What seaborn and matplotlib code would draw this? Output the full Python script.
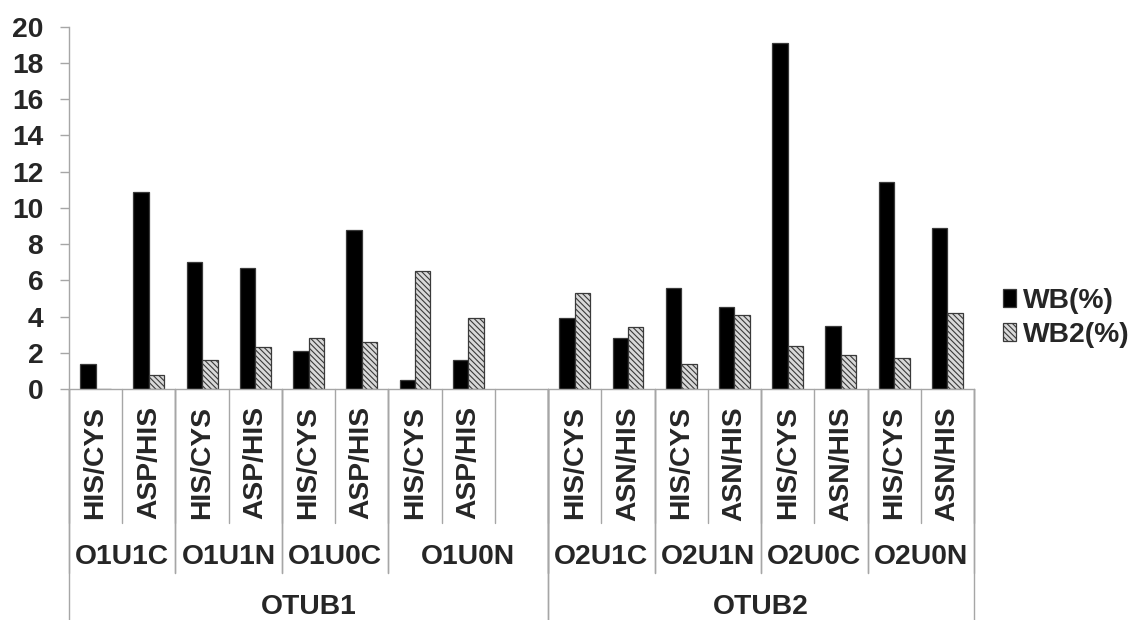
import numpy as np
import pandas as pd
import matplotlib
matplotlib.use("Agg")
import matplotlib.pyplot as plt
import seaborn as sns
from matplotlib.patches import Patch
from matplotlib.transforms import blended_transform_factory

# dados
grupos = ["O1U1C", "O1U1N", "O1U0C", "O1U0N", "O2U1C", "O2U1N", "O2U0C", "O2U0N"]
proteinas = ["OTUB1", "OTUB1", "OTUB1", "OTUB1", "OTUB2", "OTUB2", "OTUB2", "OTUB2"]
sitios = ["HIS/CYS", "ASP/HIS", "HIS/CYS", "ASP/HIS", "HIS/CYS", "ASP/HIS", "HIS/CYS", "ASP/HIS",
          "HIS/CYS", "ASN/HIS", "HIS/CYS", "ASN/HIS", "HIS/CYS", "ASN/HIS", "HIS/CYS", "ASN/HIS"]
wb = [1.4, 10.9, 7.0, 6.7, 2.1, 8.8, 0.5, 1.6, 3.9, 2.8, 5.6, 4.5, 19.1, 3.5, 11.4, 8.9]
wb2 = [0.0, 0.8, 1.6, 2.3, 2.8, 2.6, 6.5, 3.9, 5.3, 3.4, 1.4, 4.1, 2.4, 1.9, 1.7, 4.2]
series = ["WB(%)", "WB2(%)"]

# chave unica por barra
grupo_barra = [g for g in grupos for _ in range(2)]
chaves = [f"{g} {s}" for g, s in zip(grupo_barra, sitios)]
dados = pd.DataFrame({
    "chave": chaves * 2,
    "serie": [series[0]] * 16 + [series[1]] * 16,
    "valor": wb + wb2,
})

# O1U0N tem uma posicao vazia no fim
vazio = "O1U0N vazio"
ordem = chaves[:8] + [vazio] + chaves[8:]
rotulos = sitios[:8] + [""] + sitios[8:]
grupo_slot = grupo_barra[:8] + ["O1U0N"] + grupo_barra[8:]
prot_map = dict(zip(grupos, proteinas))
prot_slot = [prot_map[g] for g in grupo_slot]

sns.set_style("white")
plt.rcParams["font.family"] = ["Liberation Sans", "DejaVu Sans"]
plt.rcParams["font.weight"] = "bold"
plt.rcParams["hatch.linewidth"] = 0.8

W, H = 1132, 620
fs = 20.3
cinza = "#a6a6a6"
borda = "#3a3a3a"
fundo2 = "#d9d9d9"
hachura = "\\\\\\\\\\\\"

fig = plt.figure(figsize=(W / 100, H / 100), dpi=100)
ax = fig.add_axes([69 / W, 1 - 389 / H, (974 - 69) / W, (389 - 26.7) / H])

sns.barplot(data=dados, x="chave", y="valor", hue="serie", order=ordem, hue_order=series,
            palette={"WB(%)": "black", "WB2(%)": fundo2}, width=0.58, errorbar=None,
            edgecolor=borda, linewidth=0.9, legend=False, ax=ax)
for barra in ax.containers[1]:
    barra.set_hatch(hachura)

ax.set_xlim(-0.5, len(ordem) - 0.5)
ax.set_ylim(0, 20)
ax.set_yticks(range(0, 21, 2))
ax.set_xticks([])
ax.set_xlabel("")
ax.set_ylabel("")
sns.despine(ax=ax)
for lado in ["left", "bottom"]:
    ax.spines[lado].set_color(cinza)
    ax.spines[lado].set_linewidth(1)
ax.tick_params(axis="y", left=True, length=6.5, width=1, color=cinza, pad=12, labelsize=fs)

trans = blended_transform_factory(ax.transData, fig.transFigure)


def fy(px):
    return 1 - px / H


def linha(x, y1, y2):
    ax.plot([x, x], [fy(y1), fy(y2)], transform=trans, color=cinza, lw=1, clip_on=False)


# nivel 1: sitios
for i, r in enumerate(rotulos):
    linha(i - 0.5, 389, 523)
    ax.text(i, fy(406), r, rotation=90, ha="center", va="top", transform=trans, fontsize=fs)
linha(len(ordem) - 0.5, 389, 523)

# nivel 2: grupos
for g in grupos:
    idx = [i for i, gs in enumerate(grupo_slot) if gs == g]
    linha(idx[0] - 0.5, 389, 573)
    linha(idx[-1] + 0.5, 389, 573)
    ax.text((idx[0] + idx[-1]) / 2, fy(557), g, ha="center", va="center", transform=trans, fontsize=fs)

# nivel 3: proteinas
for p in ["OTUB1", "OTUB2"]:
    idx = [i for i, ps in enumerate(prot_slot) if ps == p]
    linha(idx[0] - 0.5, 389, 620)
    linha(idx[-1] + 0.5, 389, 620)
    ax.text((idx[0] + idx[-1]) / 2, fy(607), p, ha="center", va="center", transform=trans, fontsize=fs)

handles = [Patch(facecolor="black", edgecolor=borda, linewidth=0.9),
           Patch(facecolor=fundo2, edgecolor=borda, linewidth=0.9, hatch=hachura)]
fig.legend(handles, series, loc="center left", bbox_to_anchor=(1003 / W, fy(318)), frameon=False,
           fontsize=fs, handlelength=0.45, handleheight=0.6, handletextpad=0.25,
           labelspacing=0.3, borderpad=0, borderaxespad=0)

fig.savefig("out.png", dpi=100)
